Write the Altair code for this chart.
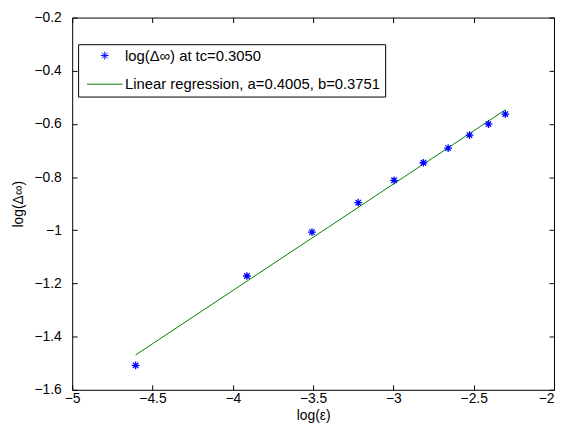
import altair as alt
import pandas as pd

# ---- data ----
log_eps = [-4.605, -3.912, -3.507, -3.219, -2.996, -2.813, -2.659, -2.526, -2.408, -2.303]
log_delta = [-1.508, -1.172, -1.007, -0.896, -0.812, -0.746, -0.691, -0.642, -0.601, -0.563]
fit_x = [-4.605, -2.303]
fit_y = [-1.469, -0.547]
x_ticks = [-5, -4.5, -4, -3.5, -3, -2.5, -2]
y_ticks = [-1.6, -1.4, -1.2, -1.0, -0.8, -0.6, -0.4, -0.2]
series = ["log(Δ∞) at tc=0.3050", "Linear regression, a=0.4005, b=0.3751"]
colors = ["#0000ff", "#008000"]

FONT = "Liberation Sans, Arial, Helvetica, sans-serif"
ASTERISK = "M0,-0.65L0,0.65M-0.65,0L0.65,0M-0.46,-0.46L0.46,0.46M-0.46,0.46L0.46,-0.46"
LINESYM = "M-3,0L3,0"

df_pts = pd.DataFrame({"x": log_eps, "y": log_delta, "series": series[0]})
df_fit = pd.DataFrame({"x": fit_x, "y": fit_y, "series": series[1]})

xscale = alt.Scale(domain=[-5, -2], nice=False, zero=False)
yscale = alt.Scale(domain=[-1.6, -0.2], nice=False, zero=False)

color = alt.Color("series:N", scale=alt.Scale(domain=series, range=colors),
                  legend=alt.Legend(title=None))
shape = alt.Shape("series:N", scale=alt.Scale(domain=series, range=[ASTERISK, LINESYM]),
                  legend=alt.Legend(title=None))

points = alt.Chart(df_pts).mark_point(filled=False, size=144, strokeWidth=1.3, opacity=1).encode(
    x=alt.X("x:Q", scale=xscale,
            axis=alt.Axis(orient="bottom", values=x_ticks, format=".1~f", offset=-5,
                          labelPadding=2, labelFlush=False,
                          labelAlign=alt.expr("datum.value >= -2 ? 'right' : 'center'"),
                          title="log(ε)", titlePadding=3)),
    y=alt.Y("y:Q", scale=yscale,
            axis=alt.Axis(orient="left", values=y_ticks, format=".1~f", offset=-5,
                          labelPadding=11, title="log(Δ∞)", titlePadding=9)),
    color=color,
    shape=shape,
)

fit = alt.Chart(df_fit).mark_line(strokeWidth=1).encode(
    x=alt.X("x:Q", scale=xscale,
            axis=alt.Axis(orient="top", values=x_ticks, labels=False, offset=-5, title=None)),
    y=alt.Y("y:Q", scale=yscale,
            axis=alt.Axis(orient="right", values=y_ticks, labels=False, offset=-5, title=None)),
    color=color,
)

chart = alt.layer(fit, points).resolve_axis(x="independent", y="independent").properties(
    width=488, height=377, autosize="none",
    padding={"left": 65, "top": 7, "right": 1, "bottom": 36},
    background="white",
).configure_view(stroke="black", strokeWidth=1).configure_axis(
    domain=False, grid=False, tickSize=5, tickColor="black", tickWidth=1,
    labelFont=FONT, labelFontSize=14, labelColor="black",
    titleFont=FONT, titleFontSize=14, titleFontWeight="normal", titleColor="black",
).configure_legend(
    orient="none", legendX=6, legendY=27, strokeColor="black", fillColor="white",
    padding=4, labelFont=FONT, labelFontSize=15, labelColor="black",
    symbolSize=144, symbolStrokeWidth=1, symbolOffset=15.5, labelOffset=13,
    rowPadding=13, labelLimit=600,
)

chart.save("out.html", embed_options={"renderer": "svg", "actions": False})
